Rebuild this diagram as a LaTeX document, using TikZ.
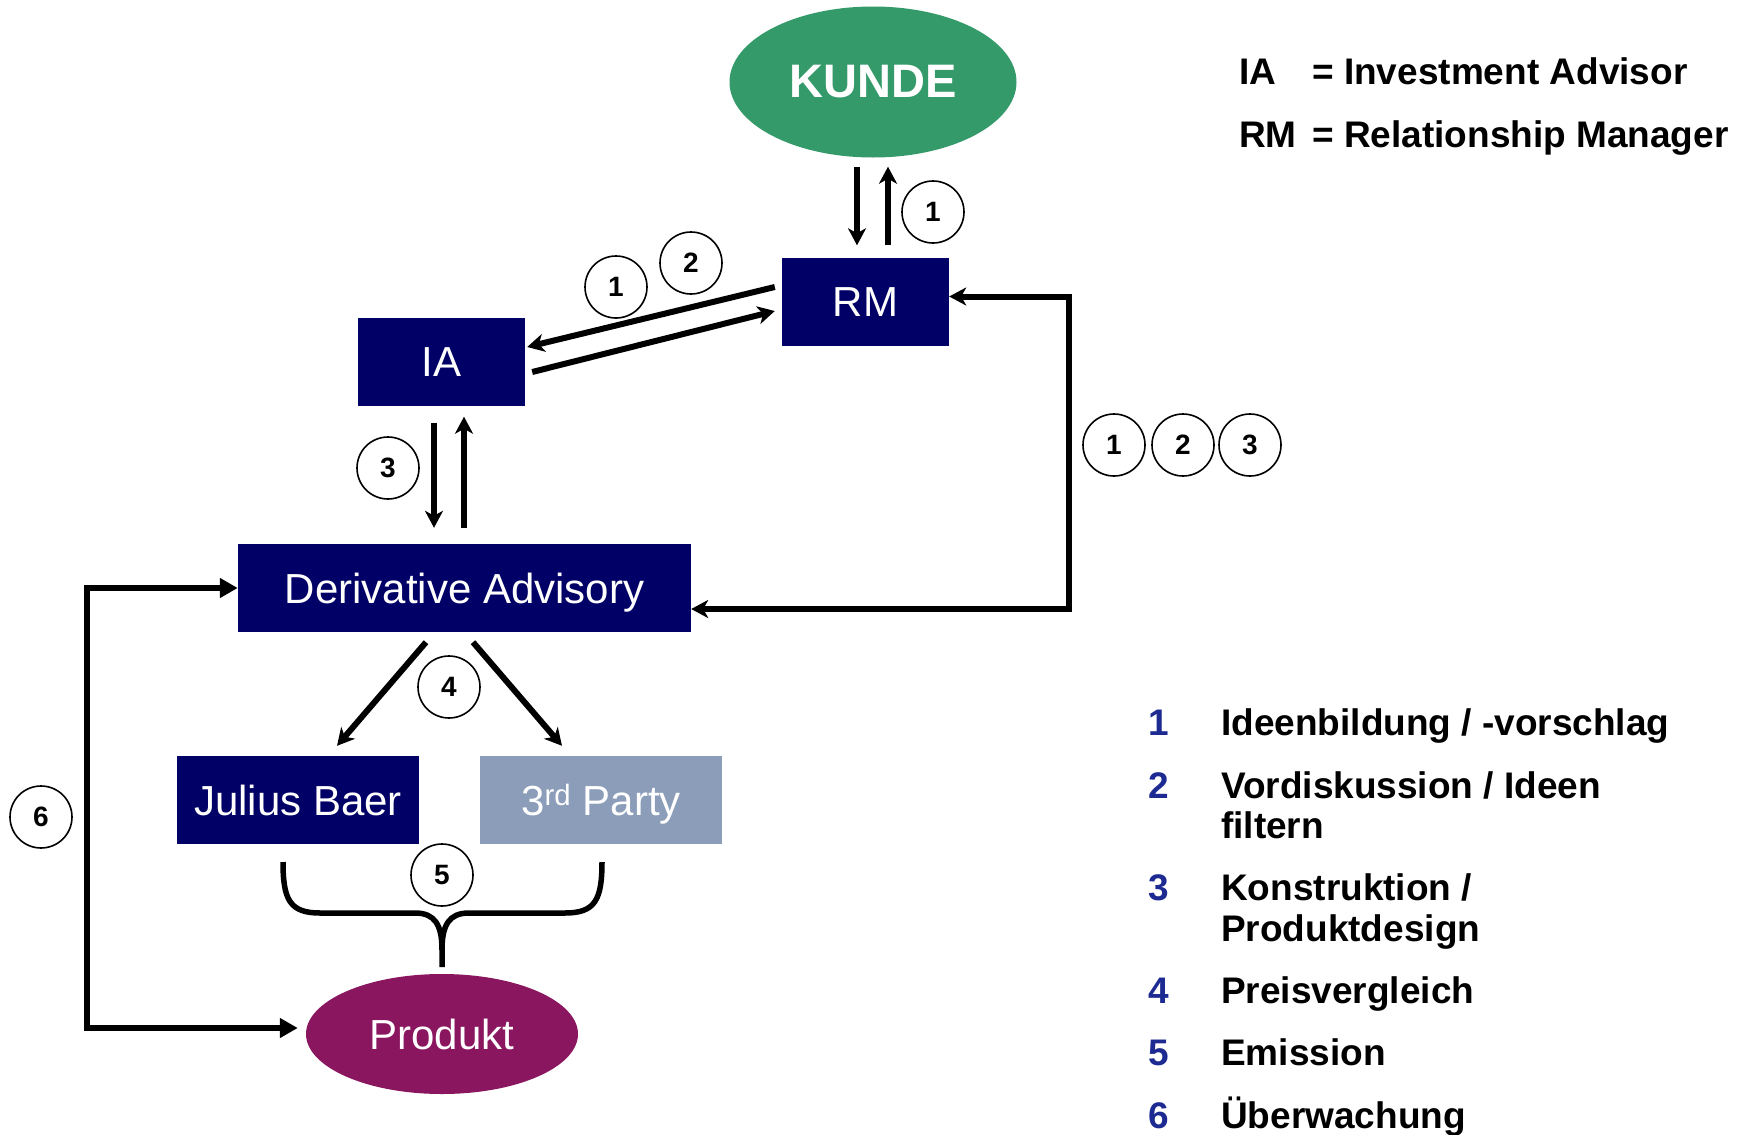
\documentclass[tikz,border=0pt]{standalone}
\usepackage{fontspec}
\setmainfont{Liberation Sans}
\usetikzlibrary{arrows.meta,shapes.geometric}
\definecolor{boxblue}{RGB}{0,0,102}
\definecolor{kundegreen}{RGB}{52,154,106}
\definecolor{produktred}{RGB}{139,22,96}
\definecolor{partygrey}{RGB}{139,157,185}
\definecolor{numblue}{RGB}{28,42,145}
\begin{document}
\begin{tikzpicture}[x=1pt, y=-1pt,
        box/.style={fill=boxblue, text=white, minimum height=88pt, inner sep=0pt, text height=30pt, text depth=0pt, font=\fontsize{42}{44}\selectfont},
        oval/.style={ellipse, text=white, inner sep=0pt},
        num/.style={circle, draw, line width=1.6pt, minimum size=62pt, inner sep=0pt, font=\fontsize{28}{28}\selectfont\bfseries},
        arrow/.style={-{Stealth[length=17pt, width=18pt, inset=5pt]}, line width=6pt},
        twoway/.style={{Stealth[length=17pt, width=18pt, inset=5pt]}-{Stealth[length=17pt, width=18pt, inset=5pt]}, line width=6pt},
        loopline/.style={{Triangle[length=18pt, width=19pt]}-{Triangle[length=18pt, width=19pt]}, line width=6pt},
        legend/.style={anchor=base west, inner sep=0pt, font=\fontsize{37}{40}\selectfont\bfseries},
        legnum/.style={anchor=base, inner sep=0pt, text=numblue, font=\fontsize{37}{40}\selectfont\bfseries}
    ]
    \useasboundingbox (0,0) rectangle (1746,1135);
    % Nodes
    \node[oval, fill=kundegreen, minimum width=287pt, minimum height=151pt, font=\fontsize{47}{47}\selectfont\bfseries] (kunde) at (873,82) {KUNDE};
    \node[box, minimum width=167pt] (rm) at (865.5,301.5) {RM};
    \node[box, minimum width=167pt] (ia) at (441.5,361.5) {IA};
    \node[box, minimum width=453pt] (da) at (464.5,588) {Derivative Advisory};
    \node[box, minimum width=242pt] (jb) at (298,800) {Julius Baer};
    \node[box, minimum width=242pt, fill=partygrey] (tp) at (601,800) {3\textsuperscript{rd} Party};
    \node[oval, fill=produktred, minimum width=272pt, minimum height=120pt, font=\fontsize{42}{44}\selectfont] (produkt) at (442,1034) {Produkt};
    % Step numbers
    \node[num] (n1k) at (933,212) {1};
    \node[num] (n1i) at (616,287) {1};
    \node[num] (n2i) at (691,263) {2};
    \node[num] (n3i) at (388,468) {3};
    \node[num] (n1r) at (1114,445) {1};
    \node[num] (n2r) at (1183,445) {2};
    \node[num] (n3r) at (1250,445) {3};
    \node[num] (n4) at (449,687) {4};
    \node[num] (n5) at (442,875) {5};
    \node[num] (n6) at (41,817) {6};
    % Edges
    \draw[arrow] ([xshift=-16pt,yshift=-9pt]kunde.south) -- ([xshift=-8.5pt,yshift=12pt]rm.north);
    \draw[arrow] ([xshift=22.5pt,yshift=12pt]rm.north) -- ([xshift=15pt,yshift=-9pt]kunde.south);
    \draw[arrow] ([xshift=-7pt,yshift=14.5pt]rm.west) -- ([xshift=2pt,yshift=14.5pt]ia.east);
    \draw[arrow] ([xshift=7pt,yshift=-10.5pt]ia.east) -- ([xshift=-7pt,yshift=-9.5pt]rm.west);
    \draw[arrow] ([xshift=-7.5pt,yshift=-17pt]ia.south) -- ([xshift=-30.5pt,yshift=16pt]da.north);
    \draw[arrow] ([xshift=-0.5pt,yshift=16pt]da.north) -- ([xshift=22.5pt,yshift=-11pt]ia.south);
    \draw[arrow] ([xshift=-38.5pt,yshift=-10pt]da.south) -- ([xshift=39pt,yshift=10pt]jb.north);
    \draw[arrow] ([xshift=8.5pt,yshift=-10pt]da.south) -- ([xshift=-39pt,yshift=10pt]tp.north);
    \draw[twoway] ([yshift=5pt]rm.east) -- ++(120,0) |- ([yshift=-21pt]da.east);
    \draw[loopline] (da.west) -- ++(-151,0) |- ([xshift=-8pt,yshift=6pt]produkt.west);
    % Brace
    \draw[line width=5.5pt] (283,862) .. controls (283,900) and (290,913) .. (320,913) -- (415,913)
        .. controls (435,913) and (442,925) .. (442,950) -- (442,967);
    \draw[line width=5.5pt] (602,862) .. controls (602,900) and (595,913) .. (565,913) -- (469,913)
        .. controls (449,913) and (442,925) .. (442,950);
    % Legend
    \node[legend] (abia) at (1239,84) {IA};
    \node[legend] (abiatext) at (1312,84) {= Investment Advisor};
    \node[legend] (abrm) at (1239,147) {RM};
    \node[legend] (abrmtext) at (1312,147) {= Relationship Manager};
    \node[legnum] (l1) at (1159,735) {1};
    \node[legend] (t1) at (1221,735) {Ideenbildung / -vorschlag};
    \node[legnum] (l2) at (1159,798) {2};
    \node[legend] (t2) at (1221,798) {Vordiskussion / Ideen};
    \node[legend] (t2b) at (1221,838) {filtern};
    \node[legnum] (l3) at (1159,900) {3};
    \node[legend] (t3) at (1221,900) {Konstruktion /};
    \node[legend] (t3b) at (1221,941) {Produktdesign};
    \node[legnum] (l4) at (1159,1003) {4};
    \node[legend] (t4) at (1221,1003) {Preisvergleich};
    \node[legnum] (l5) at (1159,1065) {5};
    \node[legend] (t5) at (1221,1065) {Emission};
    \node[legnum] (l6) at (1159,1128) {6};
    \node[legend] (t6) at (1221,1128) {Überwachung};
\end{tikzpicture}
\end{document}
